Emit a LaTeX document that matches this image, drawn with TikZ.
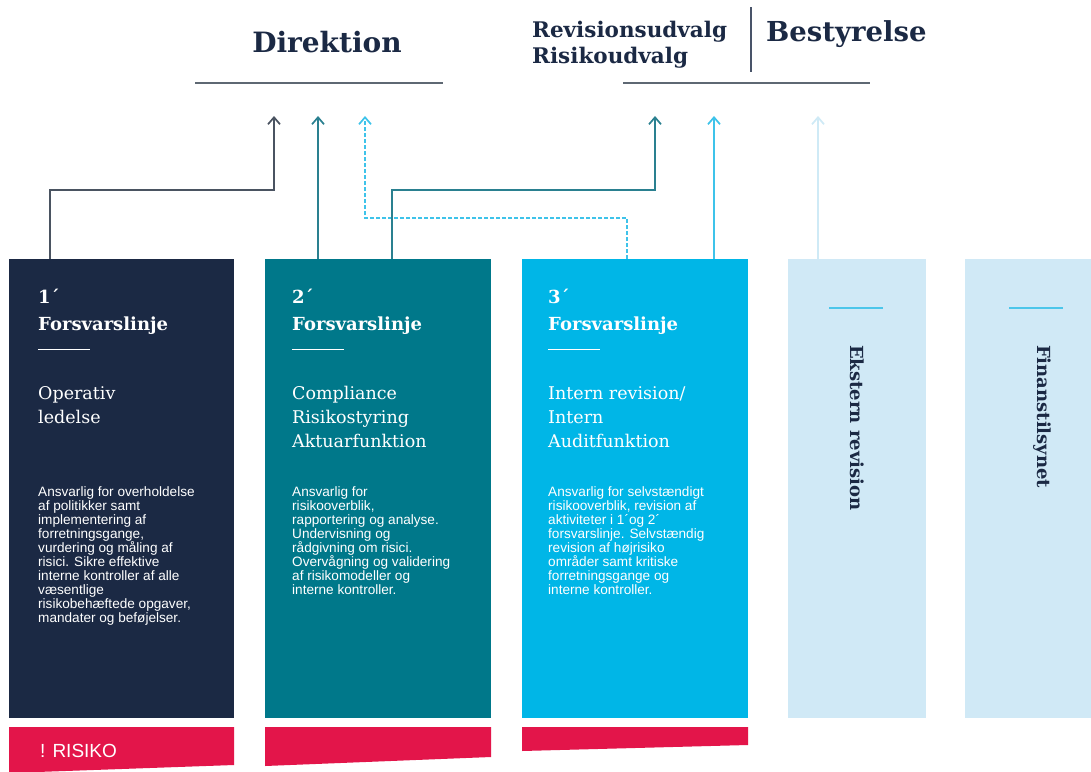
\documentclass[tikz,border=0pt]{standalone}
\usepackage{fontspec}
\setmainfont{DejaVu Serif}
\newfontfamily\sansf{Liberation Sans}
\usetikzlibrary{arrows.meta,calc}
\definecolor{navy}{HTML}{1B2944}
\definecolor{teal1}{HTML}{00788A}
\definecolor{cyan1}{HTML}{00B6E7}
\definecolor{light1}{HTML}{D0E9F6}
\definecolor{red1}{HTML}{E3154A}
\definecolor{arrdark}{HTML}{4A5361}
\definecolor{arrteal}{HTML}{2A8090}
\definecolor{arrcyan}{HTML}{3EC3EA}
\definecolor{arrlight}{HTML}{CFEAF6}
\definecolor{rulegray}{HTML}{5E6873}
\definecolor{rulecyan}{HTML}{4CC6EA}
\begin{document}
\begin{tikzpicture}[x=1pt,y=-1pt,
  colbox/.style={draw=none,inner sep=0pt,outer sep=0pt,minimum height=459pt,anchor=north west},
  hdnum/.style={font=\bfseries\fontsize{18}{20}\selectfont,text=white,anchor=base west,inner sep=0pt},
  subt/.style={font=\fontsize{17.5}{24}\selectfont,text=white,anchor=north west,align=left,inner sep=0pt},
  small/.style={font=\sansf\fontsize{13.6}{14}\selectfont,text=white,align=left,anchor=north west,inner sep=0pt},
  vert/.style={font=\bfseries\fontsize{18}{20}\selectfont,text=navy,rotate=-90,anchor=west,inner sep=0pt},
  ttl/.style={font=\bfseries,text=navy,inner sep=0pt},
  conn/.style={line width=1.5pt,-{Straight Barb[length=7pt,width=12pt,line width=1.7pt]}},
  whiterule/.style={draw=white,line width=1pt},
  riskbar/.style={fill=red1,draw=none}
]
\fill[white] (0,0) rectangle (1091,771);
\useasboundingbox (0,0) rectangle (1091,771);

% column boxes
\node[colbox,fill=navy,minimum width=225pt] (b1) at (9,259) {};
\node[colbox,fill=teal1,minimum width=226pt] (b2) at (265,259) {};
\node[colbox,fill=cyan1,minimum width=226pt] (b3) at (522,259) {};
\node[colbox,fill=light1,minimum width=138pt] (b4) at (788,259) {};
\node[colbox,fill=light1,minimum width=126pt] (b5) at (965,259) {};

% risk bars
\fill[riskbar] (9,727) -- (234,727) -- (234,765) -- (9,773) -- cycle;
\fill[riskbar] (265,727) -- (491,727) -- (491,757) -- (265,766) -- cycle;
\fill[riskbar] (522,727) -- (748,727) -- (748,745) -- (522,751) -- cycle;
\node[font=\sansf\fontsize{19}{20}\selectfont,text=white,anchor=base west,inner sep=0pt] (risk) at (40,757) {! RISIKO};

% titles
\node[ttl,font=\bfseries\fontsize{28}{30}\selectfont,anchor=base] (dir) at (327,52) {Direktion};
\node[ttl,font=\bfseries\fontsize{21.5}{22}\selectfont,anchor=base west] (rev) at (532,37) {Revisionsudvalg};
\node[ttl,font=\bfseries\fontsize{21.5}{22}\selectfont,anchor=base west] (ris) at (532,63) {Risikoudvalg};
\node[ttl,font=\bfseries\fontsize{27.5}{28}\selectfont,anchor=base west] (best) at (766,41) {Bestyrelse};
\draw[navy!80,line width=1.6pt] (751,7) -- (751,72);
\draw[rulegray,line width=1.3pt] (195,83) -- (443,83);
\draw[rulegray,line width=1.3pt] (623,83) -- (870,83);

% box 1
\node[hdnum] (n1) at (38,303) {1´};
\node[hdnum] (f1) at (38,330) {Forsvarslinje};
\draw[whiterule] (38,349) -- (90,349);
\node[subt] (o1) at (38,386) {Operativ\\ledelse};
\node[small] (d1) at (38,486) {Ansvarlig for overholdelse\\af politikker samt\\implementering af\\forretningsgange,\\vurdering og måling af\\risici. Sikre effektive\\interne kontroller af alle\\væsentlige\\risikobehæftede opgaver,\\mandater og beføjelser.};

% box 2
\node[hdnum] (n2) at (292,303) {2´};
\node[hdnum] (f2) at (292,330) {Forsvarslinje};
\draw[whiterule] (292,349) -- (344,349);
\node[subt] (o2) at (292,386) {Compliance\\Risikostyring\\Aktuarfunktion};
\node[small] (d2) at (292,486) {Ansvarlig for\\risikooverblik,\\rapportering og analyse.\\Undervisning og\\rådgivning om risici.\\Overvågning og validering\\af risikomodeller og\\interne kontroller.};

% box 3
\node[hdnum] (n3) at (548,303) {3´};
\node[hdnum] (f3) at (548,330) {Forsvarslinje};
\draw[whiterule] (548,349) -- (600,349);
\node[subt] (o3) at (548,386) {Intern revision/\\Intern\\Auditfunktion};
\node[small] (d3) at (548,486) {Ansvarlig for selvstændigt\\risikooverblik, revision af\\aktiviteter i 1´og 2´\\forsvarslinje. Selvstændig\\revision af højrisiko\\områder samt kritiske\\forretningsgange og\\interne kontroller.};

% boxes 4, 5
\draw[rulecyan,line width=1.2pt] (829,308) -- (883,308);
\draw[rulecyan,line width=1.2pt] (1009,308) -- (1063,308);
\node[vert] (e4) at (857,345) {Ekstern revision};
\node[vert] (e5) at (1042,345) {Finanstilsynet};

% connector start and end points
\coordinate (s1) at ($(b1.north west)+(41,0)$);
\coordinate (s2) at ($(b2.north west)+(53,0)$);
\coordinate (s4) at ($(b2.north west)+(127,0)$);
\coordinate (s3) at ($(b3.north west)+(105,0)$);
\coordinate (s5) at ($(b3.north west)+(192,0)$);
\coordinate (s6) at ($(b4.north west)+(30,0)$);
\coordinate (t1) at (274,116);
\coordinate (t2) at (318,116);
\coordinate (t3) at (365,116);
\coordinate (t4) at (655,116);
\coordinate (t5) at (714,116);
\coordinate (t6) at (818,116);

\draw[conn,arrdark] (s1) |- ($(t1)+(0,74)$) -- (t1);
\draw[conn,arrteal] (s2) -- (t2);
\draw[conn,arrcyan,dash pattern=on 4pt off 2pt] (s3) |- ($(t3)+(0,102)$) -- (t3);
\draw[conn,arrteal] (s4) |- ($(t4)+(0,74)$) -- (t4);
\draw[conn,arrcyan] (s5) -- (t5);
\draw[conn,arrlight] (s6) -- (t6);
\end{tikzpicture}
\end{document}
